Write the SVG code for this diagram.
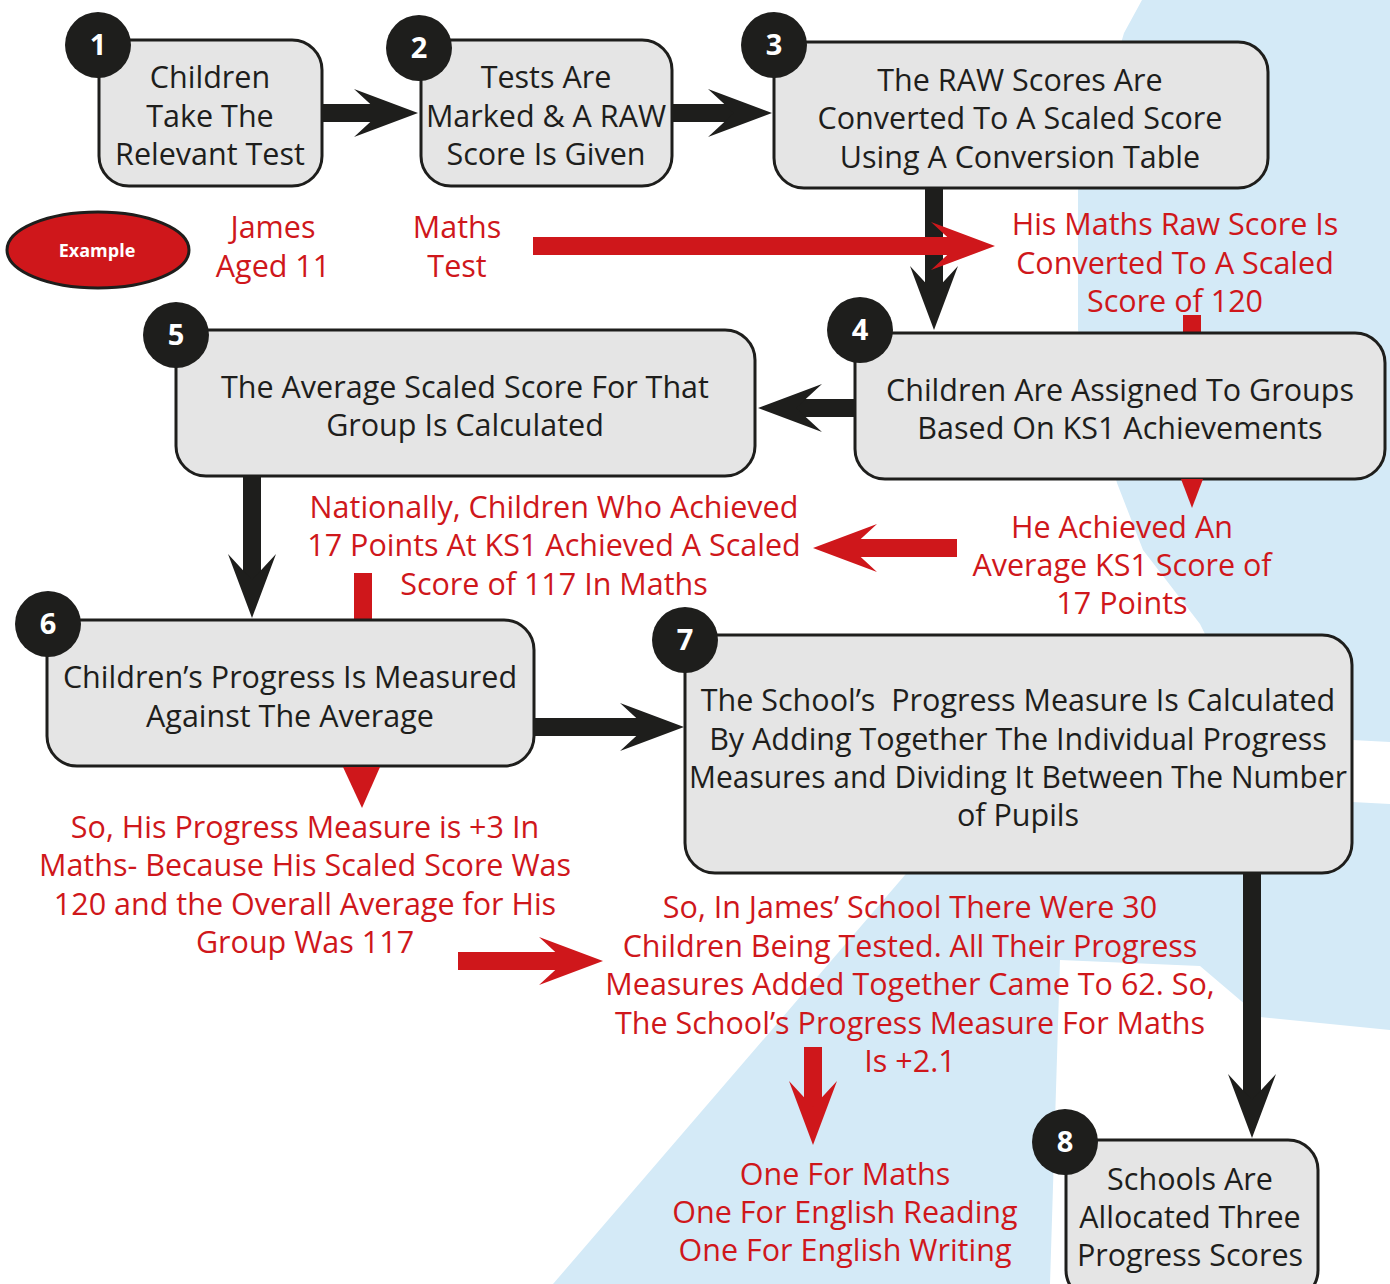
<svg xmlns="http://www.w3.org/2000/svg" xmlns:xlink="http://www.w3.org/1999/xlink" width="1390" height="1284" viewBox="0 0 1390 1284">
<style>
.box{fill:#e5e5e5;stroke:#1e1e1c;stroke-width:3}
.num{fill:#1e1e1c}
.numt{fill:#fff;font-family:"Open Sans","Noto Sans",sans-serif;font-weight:700;font-size:29px;text-anchor:middle}
.t{fill:#1e1e1c;font-family:"Open Sans","Noto Sans",sans-serif;font-size:30.5px;text-anchor:middle}
.r{fill:#cf171b;font-family:"Open Sans","Noto Sans",sans-serif;font-size:30.5px;text-anchor:middle}
.bs{stroke:#1e1e1c;stroke-width:18;fill:none}
.rs{stroke:#cf171b;stroke-width:18;fill:none}
.bh{fill:#1e1e1c}
.rh{fill:#cf171b}
</style>
<defs>
<path id="head" d="M0,0 L-64,-24 L-38,0 L-64,24 Z"/>
</defs>
<g id="background">
<rect width="1390" height="1284" fill="#ffffff"/>
<path fill="#d4eaf7" d="M1142,0 L1390,0 L1390,742 L1352,740 L1352,802 L1390,804 L1390,1030 L1260,1017 L1200,966 L1060,960 L1050,1284 L553,1284 L905,875 L1000,760 L1205,634 L1200,624 L1143,550 L1117,483 L1078,330 L1078,190 L1124,33 Z"/>
</g>
<g id="connectors">
<line class="bs" x1="322" y1="113" x2="385" y2="113"/>
<use href="#head" class="bh" transform="translate(418,113)"/>
<line class="bs" x1="672" y1="113" x2="740" y2="113"/>
<use href="#head" class="bh" transform="translate(772,113)"/>
<line class="bs" x1="934" y1="188" x2="934" y2="295"/>
<use href="#head" class="bh" transform="translate(934,330) rotate(90)"/>
<line class="bs" x1="855" y1="408" x2="795" y2="408"/>
<use href="#head" class="bh" transform="translate(758,408) rotate(180)"/>
<line class="bs" x1="252" y1="476" x2="252" y2="585"/>
<use href="#head" class="bh" transform="translate(252,618) rotate(90)"/>
<line class="bs" x1="534" y1="727" x2="650" y2="727"/>
<use href="#head" class="bh" transform="translate(684,727)"/>
<line class="bs" x1="1252" y1="873" x2="1252" y2="1100"/>
<use href="#head" class="bh" transform="translate(1252,1138) rotate(90)"/>
<line class="rs" x1="533" y1="246" x2="960" y2="246"/>
<use href="#head" class="rh" transform="translate(995,246)"/>
<line class="rs" x1="957" y1="548" x2="850" y2="548"/>
<use href="#head" class="rh" transform="translate(813,548) rotate(180)"/>
<line class="rs" x1="458" y1="961" x2="570" y2="961"/>
<use href="#head" class="rh" transform="translate(603,961)"/>
<line class="rs" x1="813" y1="1047" x2="813" y2="1110"/>
<use href="#head" class="rh" transform="translate(813,1145) rotate(90)"/>
<rect class="rh" x="1183" y="315" width="18" height="19"/>
<rect class="rh" x="354" y="573" width="18" height="47"/>
</g>
<g id="node1">
<rect class="box" x="99" y="40" width="223" height="146" rx="30"/>
<circle class="num" cx="98" cy="45" r="33"/>
<text class="numt" x="98" y="55">1</text>
<text class="t" x="210" y="88">Children</text>
<text class="t" x="210" y="127">Take The</text>
<text class="t" x="210" y="165">Relevant Test</text>
</g>
<g id="node2">
<rect class="box" x="421" y="40" width="251" height="146" rx="30"/>
<circle class="num" cx="419" cy="48" r="33"/>
<text class="numt" x="419" y="58">2</text>
<text class="t" x="546" y="88">Tests Are</text>
<text class="t" x="546" y="127">Marked &amp; A RAW</text>
<text class="t" x="546" y="165">Score Is Given</text>
</g>
<g id="node3">
<rect class="box" x="774" y="42" width="494" height="146" rx="30"/>
<circle class="num" cx="774" cy="45" r="33"/>
<text class="numt" x="774" y="55">3</text>
<text class="t" x="1020" y="91">The RAW Scores Are</text>
<text class="t" x="1020" y="129">Converted To A Scaled Score</text>
<text class="t" x="1020" y="168">Using A Conversion Table</text>
</g>
<g id="example">
<ellipse cx="98" cy="250" rx="91" ry="38" fill="#cf171b" stroke="#1e1e1c" stroke-width="3"/>
<text x="97" y="257" fill="#fff" font-family="'Open Sans','Noto Sans',sans-serif" font-weight="700" font-size="18" text-anchor="middle">Example</text>
<text class="r" x="273" y="238">James</text>
<text class="r" x="273" y="277">Aged 11</text>
<text class="r" x="457" y="238">Maths</text>
<text class="r" x="457" y="277">Test</text>
<text class="r" x="1175" y="235">His Maths Raw Score Is</text>
<text class="r" x="1175" y="274">Converted To A Scaled</text>
<text class="r" x="1175" y="312">Score of 120</text>
</g>
<g id="node4">
<rect class="box" x="855" y="333" width="530" height="146" rx="30"/>
<circle class="num" cx="860" cy="330" r="33"/>
<text class="numt" x="860" y="340">4</text>
<text class="t" x="1120" y="401">Children Are Assigned To Groups</text>
<text class="t" x="1120" y="439">Based On KS1 Achievements</text>
</g>
<g id="node5">
<rect class="box" x="176" y="330" width="579" height="146" rx="30"/>
<circle class="num" cx="176" cy="335" r="33"/>
<text class="numt" x="176" y="345">5</text>
<text class="t" x="465" y="398">The Average Scaled Score For That</text>
<text class="t" x="465" y="436">Group Is Calculated</text>
</g>
<g id="notes-mid">
<polygon class="rh" points="1181,479 1203,479 1192,508"/>
<text class="r" x="1122" y="538">He Achieved An</text>
<text class="r" x="1122" y="576">Average KS1 Score of</text>
<text class="r" x="1122" y="614">17 Points</text>
<text class="r" x="554" y="518">Nationally, Children Who Achieved</text>
<text class="r" x="554" y="556">17 Points At KS1 Achieved A Scaled</text>
<text class="r" x="554" y="595">Score of 117 In Maths</text>
</g>
<g id="node6">
<rect class="box" x="47" y="620" width="487" height="146" rx="30"/>
<circle class="num" cx="48" cy="624" r="33"/>
<text class="numt" x="48" y="634">6</text>
<text class="t" x="290" y="688">Children’s Progress Is Measured</text>
<text class="t" x="290" y="727">Against The Average</text>
</g>
<g id="node7">
<rect class="box" x="685" y="635" width="667" height="238" rx="30"/>
<circle class="num" cx="685" cy="640" r="33"/>
<text class="numt" x="685" y="650">7</text>
<text class="t" x="1018" y="711" xml:space="preserve">The School’s  Progress Measure Is Calculated</text>
<text class="t" x="1018" y="750">By Adding Together The Individual Progress</text>
<text class="t" x="1018" y="788" textLength="658" lengthAdjust="spacingAndGlyphs">Measures and Dividing It Between The Number</text>
<text class="t" x="1018" y="826">of Pupils</text>
</g>
<g id="notes-low">
<polygon class="rh" points="343,767 380,767 362,808"/>
<text class="r" x="305" y="838">So, His Progress Measure is +3 In</text>
<text class="r" x="305" y="876">Maths- Because His Scaled Score Was</text>
<text class="r" x="305" y="915">120 and the Overall Average for His</text>
<text class="r" x="305" y="953">Group Was 117</text>
<text class="r" x="910" y="918">So, In James’ School There Were 30</text>
<text class="r" x="910" y="957">Children Being Tested. All Their Progress</text>
<text class="r" x="910" y="995">Measures Added Together Came To 62. So,</text>
<text class="r" x="910" y="1034">The School’s Progress Measure For Maths</text>
<text class="r" x="910" y="1072">Is +2.1</text>
<text class="r" x="845" y="1185">One For Maths</text>
<text class="r" x="845" y="1223">One For English Reading</text>
<text class="r" x="845" y="1261">One For English Writing</text>
</g>
<g id="node8">
<rect class="box" x="1066" y="1140" width="252" height="160" rx="30"/>
<circle class="num" cx="1065" cy="1142" r="33"/>
<text class="numt" x="1065" y="1152">8</text>
<text class="t" x="1190" y="1190">Schools Are</text>
<text class="t" x="1190" y="1228">Allocated Three</text>
<text class="t" x="1190" y="1266">Progress Scores</text>
</g>
</svg>
